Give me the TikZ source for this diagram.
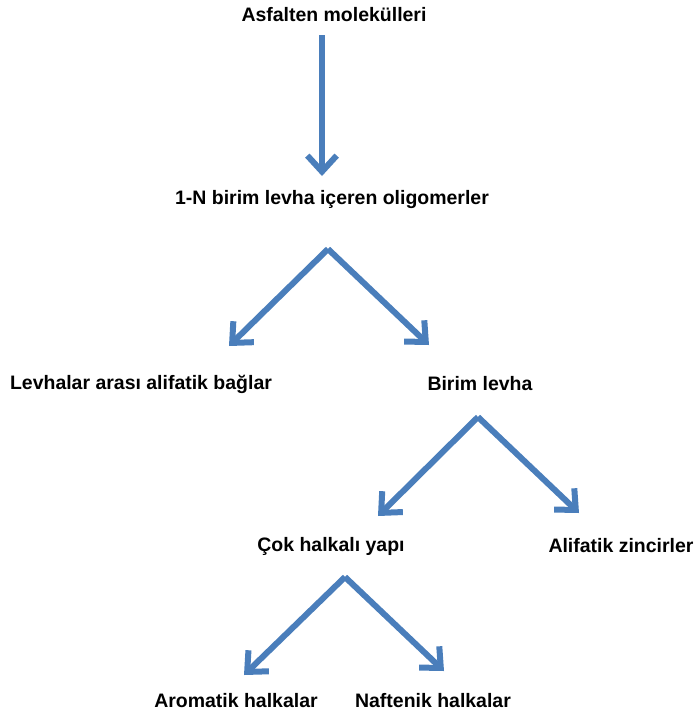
\documentclass[tikz,border=0pt]{standalone}
\usepackage{fontspec}
\setmainfont{Liberation Sans}
\usepackage{xcolor}
\usetikzlibrary{arrows.meta}
\definecolor{okmavi}{RGB}{74,126,187}

\begin{document}
\begin{tikzpicture}[x=0.75pt,y=-0.75pt,
    lbl/.style={font=\fontsize{14.6}{17}\selectfont\bfseries, inner sep=0pt},
    ok/.style={draw=okmavi, line width=4.5pt, line join=miter,
      -{Straight Barb[length=12pt,width=22pt,line width=4.5pt]}}]
      \useasboundingbox (0,0) rectangle (697,719);

      \node[lbl] (asf) at (334,15){Asfalten molekülleri};
      \node[lbl] (oli) at (332,200){1-N birim levha içeren oligomerler};
      \node[lbl] (lev) at (141,384){Levhalar arası alifatik bağlar};
      \node[lbl] (bir) at (480,384){Birim levha};
      \node[lbl] (cok) at (331,546){Çok halkalı yapı};
      \node[lbl] (ali) at (621,546){Alifatik zincirler};
      \node[lbl] (aro) at (236,701){Aromatik halkalar};
      \node[lbl] (naf) at (433,701){Naftenik halkalar};

      % tepe noktalari ve ok uclari
      \coordinate (a1) at (322,35);
      \coordinate (u1) at (322,176);
      \coordinate (a2) at (328,249);
      \coordinate (u2) at (229,346);
      \coordinate (u3) at (429,345);
      \coordinate (a3) at (478,417);
      \coordinate (u4) at (378,516);
      \coordinate (u5) at (579,513);
      \coordinate (a4) at (345,577);
      \coordinate (u6) at (244,675);
      \coordinate (u7) at (444,671);

      \draw[ok] (a1) -- (u1);
      \draw[ok] (a2) -- (u2);
      \draw[ok] (a2) -- (u3);
      \draw[ok] (a3) -- (u4);
      \draw[ok] (a3) -- (u5);
      \draw[ok] (a4) -- (u6);
      \draw[ok] (a4) -- (u7);
    \end{tikzpicture}
\end{document}
